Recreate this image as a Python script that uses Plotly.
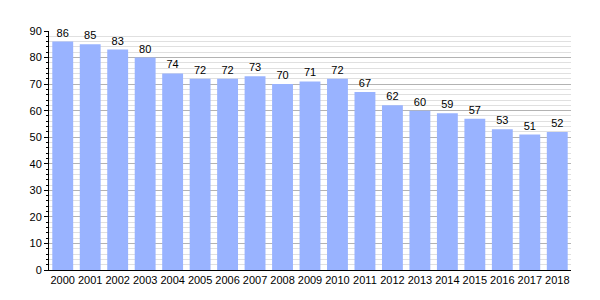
import plotly.graph_objects as go

years = [str(y) for y in range(2000, 2019)]
values = [86, 85, 83, 80, 74, 72, 72, 73, 70, 71, 72, 67, 62, 60, 59, 57, 53, 51, 52]
y_ticks = list(range(0, 91, 10))

fig = go.Figure(go.Bar(
    x=years, y=values,
    marker=dict(color="#99b3ff", line=dict(width=0)),
    text=[str(v) for v in values], textposition="outside",
    textfont=dict(family="Liberation Sans, Arial", size=11, color="black"),
    cliponaxis=False,
))
fig.update_layout(
    width=600, height=300,
    margin=dict(l=49, r=29, t=31, b=30),
    plot_bgcolor="white", paper_bgcolor="white",
    bargap=0.24,
    showlegend=False,
    font=dict(family="Liberation Sans, Arial", size=11, color="black"),
    uniformtext=dict(mode=False),
)
fig.update_xaxes(
    showline=True, linecolor="black", linewidth=1,
    ticks="", tickfont=dict(size=11), ticklabelstandoff=0,
)
fig.update_yaxes(
    range=[0, 90], tickvals=y_ticks,
    showline=True, linecolor="black", linewidth=1,
    ticks="outside", ticklen=4, tickcolor="black",
    showgrid=True, gridcolor="#b3b3b3", gridwidth=1,
    minor=dict(dtick=2, showgrid=True, gridcolor="#e0e0e0", ticks="outside", ticklen=2, tickcolor="black"),
    zeroline=False, tickfont=dict(size=11),
)
fig.write_html("out.html")
